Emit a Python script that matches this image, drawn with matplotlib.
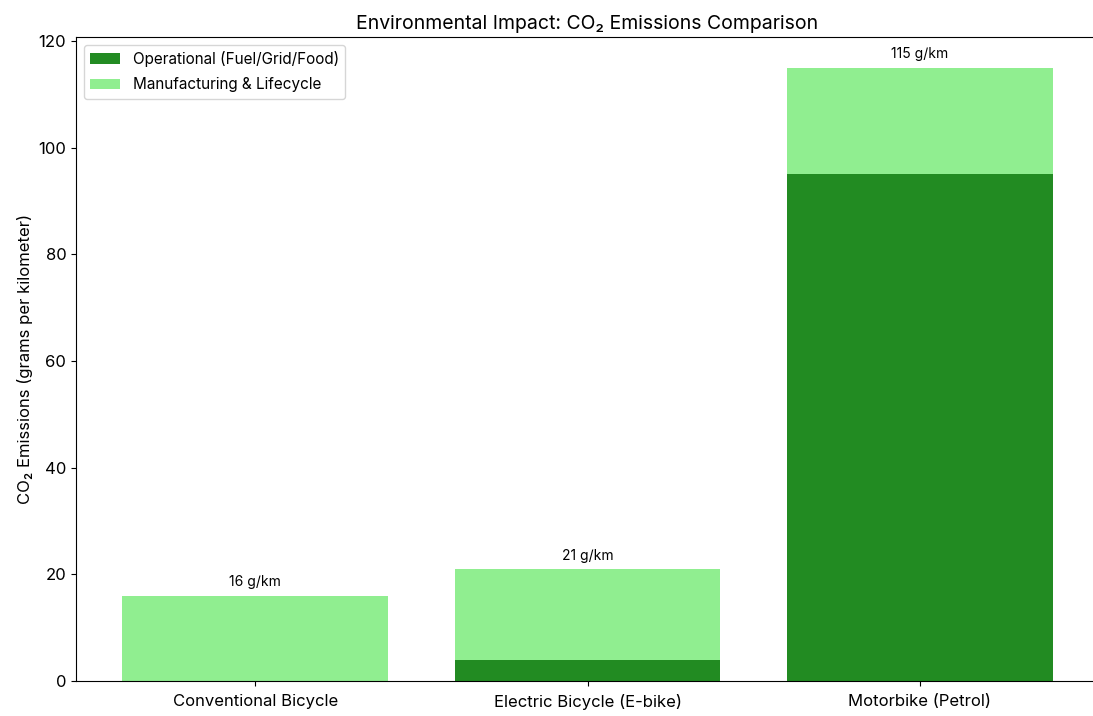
import matplotlib.pyplot as plt
import numpy as np

plt.rcParams['font.family'] = ['Inter', 'DejaVu Sans']

vehicles = ['Conventional Bicycle', 'Electric Bicycle (E-bike)', 'Motorbike (Petrol)']
operational = [0, 4, 95]
manufacturing = [16, 17, 20]
totals = [o + m for o, m in zip(operational, manufacturing)]

fig = plt.figure(figsize=(10.93, 7.16), dpi=100)
ax = fig.add_axes([76 / 1093, 35 / 716, 1023 / 1093, 644 / 716])

x = np.arange(len(vehicles))
ax.bar(x, operational, 0.8, color='forestgreen', label='Operational (Fuel/Grid/Food)')
ax.bar(x, manufacturing, 0.8, bottom=operational, color='lightgreen', label='Manufacturing & Lifecycle')

for i, t in enumerate(totals):
    ax.text(x[i], t + 1.2, f'{t} g/km', ha='center', va='bottom', fontsize=10)

ax.set_xticks(x)
ax.set_xticklabels(vehicles, fontsize=12)
ax.tick_params(axis='x', pad=6)
ax.tick_params(axis='y', labelsize=12)
ax.set_ylim(0, max(totals) * 1.05)
ax.set_ylabel('CO₂ Emissions (grams per kilometer)', fontsize=12)
ax.set_title('Environmental Impact: CO₂ Emissions Comparison', fontsize=14)
ax.legend(loc='upper left', fontsize=11, labelspacing=0.7)

fig.savefig('out.png', dpi=100)
